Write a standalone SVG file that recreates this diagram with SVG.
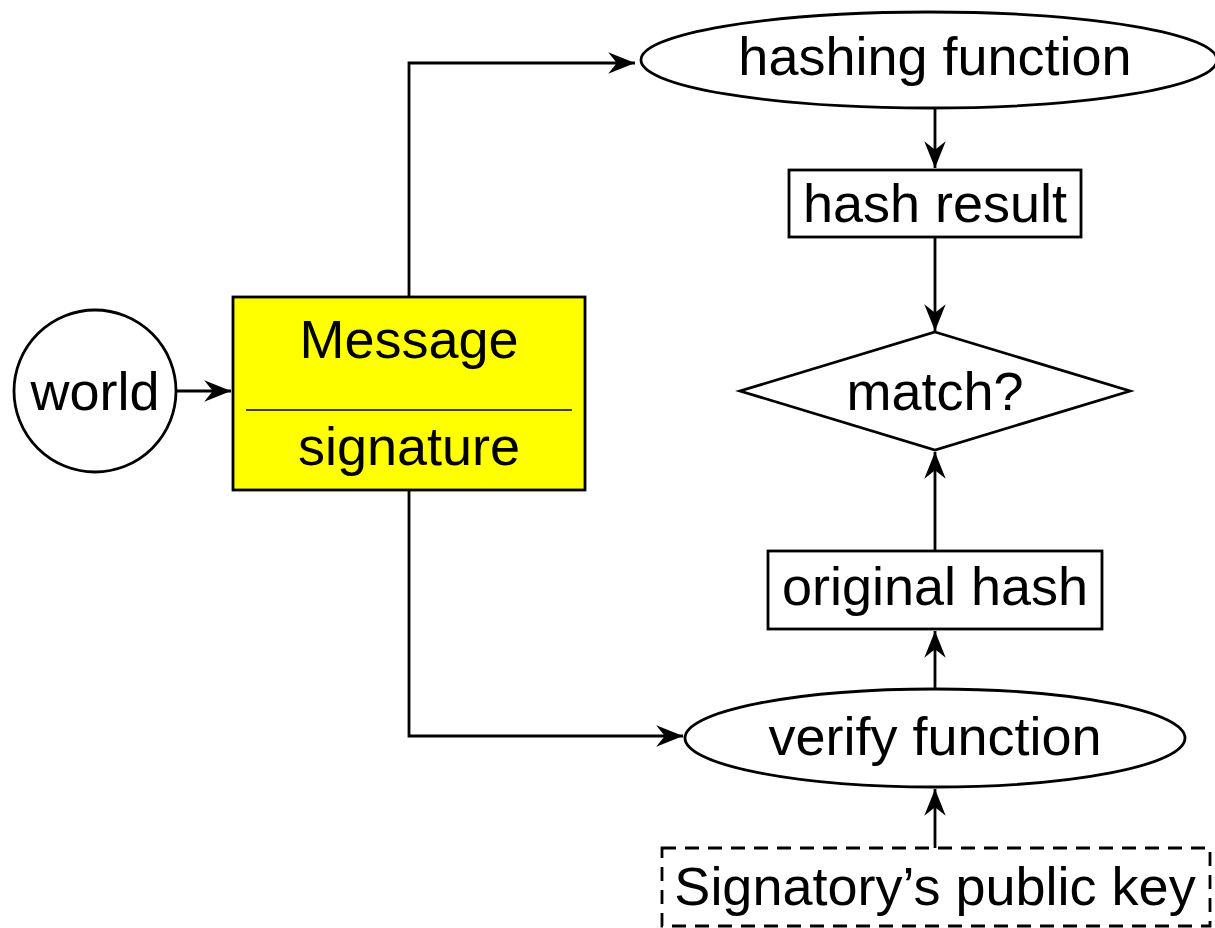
<svg xmlns="http://www.w3.org/2000/svg" width="1215" height="928" viewBox="0 0 1215 928">
<style>
.s{fill:none;stroke:#000;stroke-width:2.8}
.n{fill:#fff;stroke:#000;stroke-width:2.8}
.t{font-family:"Liberation Sans",Arial,sans-serif;font-size:54px;fill:#000;text-anchor:middle}
</style>
<defs>
<marker id="a" markerUnits="userSpaceOnUse" markerWidth="30" markerHeight="24" viewBox="-26 -11 28 22" refX="0" refY="0" orient="auto">
<path d="M0,0 L-25,-10 L-17,0 L-25,10 Z" fill="#000"/>
</marker>
</defs>
<rect width="1215" height="928" fill="#fff"/>
<g id="connectors">
<path class="s" d="M409,297 V63 H635" marker-end="url(#a)"/>
<path class="s" d="M935,108 V168" marker-end="url(#a)"/>
<path class="s" d="M935,237 V331" marker-end="url(#a)"/>
<path class="s" d="M935,551 V452" marker-end="url(#a)"/>
<path class="s" d="M935,690 V631" marker-end="url(#a)"/>
<path class="s" d="M935,848 V789" marker-end="url(#a)"/>
<path class="s" d="M409,490 V736 H683" marker-end="url(#a)"/>
<path class="s" d="M176,391 H231" marker-end="url(#a)"/>
</g>
<g id="world">
<ellipse class="n" cx="95" cy="391" rx="81" ry="81"/>
<text class="t" x="95" y="410">world</text>
</g>
<g id="message">
<rect x="233" y="297" width="352" height="193" fill="#ffff00" stroke="#000" stroke-width="2.8"/>
<line x1="246" y1="410" x2="572" y2="410" stroke="#000" stroke-width="1.6"/>
<text class="t" x="409" y="358">Message</text>
<text class="t" x="409" y="465">signature</text>
</g>
<g id="hashing">
<ellipse class="n" cx="929" cy="60" rx="288" ry="48"/>
<text class="t" x="935" y="75">hashing function</text>
</g>
<g id="hashresult">
<rect class="n" x="789" y="170" width="292" height="67"/>
<text class="t" x="935" y="222">hash result</text>
</g>
<g id="match">
<polygon class="n" points="935,332 1130,391 935,450 740,391"/>
<text class="t" x="935" y="410">match?</text>
</g>
<g id="originalhash">
<rect class="n" x="768" y="551" width="334" height="78"/>
<text class="t" x="935" y="605">original hash</text>
</g>
<g id="verify">
<ellipse class="n" cx="935" cy="738" rx="250" ry="49"/>
<text class="t" x="935" y="755">verify function</text>
</g>
<g id="pubkey">
<rect class="n" x="662" y="848" width="548" height="78" stroke-dasharray="14,9"/>
<text class="t" x="935" y="905">Signatory’s public key</text>
</g>
</svg>
